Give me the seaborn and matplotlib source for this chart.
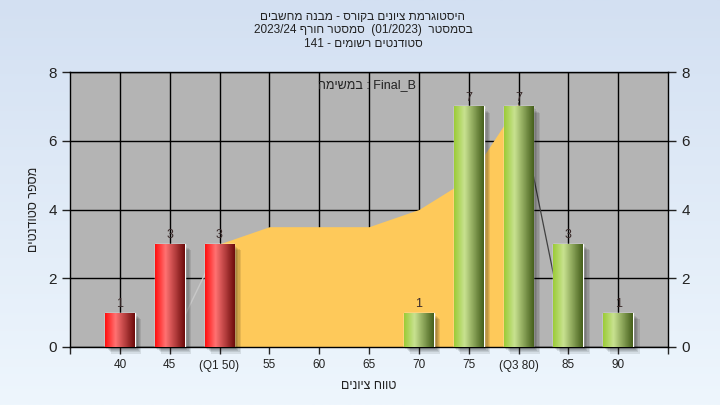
import numpy as np
import pandas as pd
import matplotlib
matplotlib.use("Agg")
import matplotlib.pyplot as plt
import seaborn as sns
from matplotlib.patches import Rectangle
from matplotlib.colors import LinearSegmentedColormap

# data
grades = ["40", "45", "(Q1 50)", "55", "60", "65", "70", "75", "(Q3 80)", "85", "90"]
counts = [1, 3, 3, 0, 0, 0, 1, 7, 7, 3, 1]
bar_group = ["low", "low", "low", "low", "low", "low", "high", "high", "high", "high", "high"]
area_vals = [0, 0, 3, 3.5, 3.5, 3.5, 4, 4.9, 7.1, 0, 0]
y_ticks = [0, 2, 4, 6, 8]

title_lines = ["היסטוגרמת ציונים בקורס - מבנה מחשבים",
               "בסמסטר  (01/2023)  סמסטר חורף 2023/24",
               "סטודנטים רשומים - 141"]
x_label = "טווח ציונים"
y_label = "מספר סטודנטים"
task_label = "במשימה : Final_B"


def is_heb(w):
    return any("\u0590" <= c <= "\u05ff" for c in w)


def rtl(s):
    # matplotlib draws characters in logical order, so build the visual order by hand
    return " ".join(w[::-1] if is_heb(w) else w for w in s.split(" ")[::-1])


def ltr(s):
    # left-to-right line, only the Hebrew words flipped
    return " ".join(w[::-1] if is_heb(w) else w for w in s.split(" "))


sns.set_theme(style="white")
plt.rcParams["font.family"] = ["Liberation Sans", "DejaVu Sans"]

fig = plt.figure(figsize=(7.2, 4.05), dpi=100)

# light blue background gradient
bg = fig.add_axes([0, 0, 1, 1], zorder=-10)
bg_cmap = LinearSegmentedColormap.from_list("bg", ["#d3e0f2", "#eef6fd"])
bg.imshow(np.linspace(0, 1, 256).reshape(-1, 1), aspect="auto", cmap=bg_cmap, extent=[0, 1, 0, 1])
bg.axis("off")

ax = fig.add_axes([70 / 720, 1 - 347 / 405, 598 / 720, 275 / 405])
ax.set_facecolor("#b4b4b4")

df = pd.DataFrame({"grade": grades, "count": counts, "group": bar_group})
sns.barplot(data=df, x="grade", y="count", hue="group", palette={"low": "#e02020", "high": "#90b840"},
            width=0.6, legend=False, ax=ax, zorder=3, saturation=1)

x = np.arange(len(grades))
# yellow area (visible part 50..80) and its thin edges
ax.fill_between(x[2:9], 0, area_vals[2:9], color="#fec95a", zorder=2, lw=0)
ax.plot(x[1:3], area_vals[1:3], color="#c8c8c8", lw=1, zorder=2)
ax.plot(x[8:10], area_vals[8:10], color="#404040", lw=0.9, zorder=2)
ax.plot(x[0:2], area_vals[0:2], color="#606060", lw=0.8, zorder=2)
ax.plot(x[9:11], area_vals[9:11], color="#606060", lw=0.8, zorder=2)

red_cmap = LinearSegmentedColormap.from_list("r", [(0, "#ff1010"), (0.35, "#ff7272"), (1, "#6e0c0c")])
green_cmap = LinearSegmentedColormap.from_list("g", [(0, "#9ccc38"), (0.35, "#c8e290"), (1, "#46601c")])
grad = np.linspace(0, 1, 64).reshape(1, -1)

for p, c, g in zip(ax.patches, counts, bar_group):
    if c == 0:
        p.set_visible(False)
        continue
    x0, w, h = p.get_x(), p.get_width(), p.get_height()
    # soft shadow
    for k in range(5):
        ax.add_patch(Rectangle((x0 + 0.03 + k * 0.025, -0.05 - k * 0.035), w, h, color="black",
                               alpha=0.09, lw=0, zorder=2.5, clip_on=False))
    im = ax.imshow(grad, cmap=red_cmap if g == "low" else green_cmap, aspect="auto",
                   extent=[x0, x0 + w, 0, h], zorder=3.5)
    im.set_clip_path(p)
    ax.text(x0 + w / 2, h + 0.08, str(c), ha="center", va="bottom", fontsize=9, color="#3a2a2a", zorder=5)

ax.set_xlim(-1, len(grades))
ax.set_ylim(0, 8)
ax.set_yticks(y_ticks)
ax.set_xticks(x)
ax.set_xticks([-1, len(grades)], minor=True)
ax.set_xticklabels(grades, fontsize=8.5, color="#222222")
ax.tick_params(axis="y", labelsize=11, colors="#222222", direction="out", length=6, width=1,
               left=True, right=True, labelright=True)
ax.tick_params(axis="x", which="both", direction="out", length=5, width=1, bottom=True, pad=4)
ax.grid(True, color="black", lw=1, zorder=1)
ax.set_axisbelow(True)
for s in ax.spines.values():
    s.set_color("black")
    s.set_linewidth(1)

ax.set_xlabel(rtl(x_label), fontsize=9, color="#222222", labelpad=6)
ax.set_ylabel(rtl(y_label), fontsize=9, color="#222222", rotation=90)
ax.yaxis.set_label_coords(-0.05, 0.5)

ax.text(0.497, 0.953, ltr(task_label), transform=ax.transAxes, ha="center", va="center", fontsize=9,
        color="#222222", zorder=6)

for i, line in enumerate(title_lines):
    fig.text(0.504, 1 - (17 + i * 13.5) / 405, rtl(line), ha="center", va="center", fontsize=8.5,
             color="#222222")

fig.savefig("out.png", dpi=100)
